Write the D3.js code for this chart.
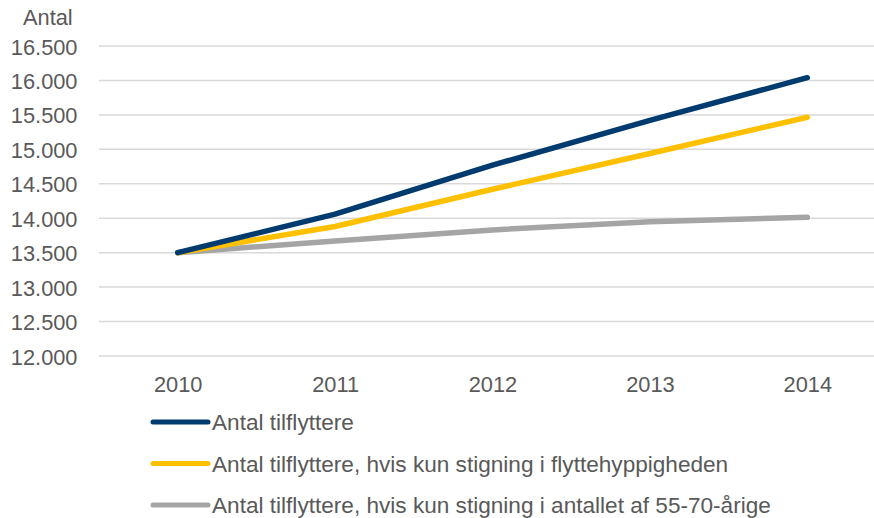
<!DOCTYPE html>
<html>
<head>
<meta charset="utf-8">
<script src="https://cdn.jsdelivr.net/npm/d3@7"></script>
<style>
  body { margin: 0; background: #fff; }
  text { font-family: "Liberation Sans", Arial, sans-serif; fill: #595959; }
</style>
</head>
<body>
<div id="chart"></div>
<script>
// data
const years = ["2010", "2011", "2012", "2013", "2014"];
const tilflyttere = [13500, 14060, 14770, 15420, 16040];
const flyttehyppighed = [13500, 13880, 14420, 14940, 15465];
const aldersgruppe = [13500, 13670, 13830, 13950, 14013];
const yTicks = [12000, 12500, 13000, 13500, 14000, 14500, 15000, 15500, 16000, 16500];

const series = [
    { name: "Antal tilflyttere", values: tilflyttere, color: "#003b6f" },
    { name: "Antal tilflyttere, hvis kun stigning i flyttehyppigheden", values: flyttehyppighed, color: "#ffc000" },
    { name: "Antal tilflyttere, hvis kun stigning i antallet af 55-70-årige", values: aldersgruppe, color: "#a5a5a5" }
];

const width = 874, height = 518;
const fontSize = "21.8px";
const legendFontSize = "22.6px";

const svg = d3.select("#chart").append("svg")
    .attr("width", width)
    .attr("height", height);

// plot area (right side runs past the visible edge like in the original)
const plot = { left: 99, right: 886, top: 46, bottom: 356 };

const x = d3.scalePoint()
    .domain(years)
    .range([plot.left, plot.right])
    .padding(0.5);

const y = d3.scaleLinear()
    .domain([12000, 16500])
    .range([plot.bottom, plot.top]);

const fmt = d => d3.format(",")(d).replace(/,/g, ".");

// gridlines
svg.append("g")
    .selectAll("line")
    .data(yTicks)
    .join("line")
    .attr("x1", plot.left)
    .attr("x2", plot.right)
    .attr("y1", d => y(d))
    .attr("y2", d => y(d))
    .attr("stroke", "#d9d9d9")
    .attr("stroke-width", 1.5);

// y axis labels
const yAxis = d3.axisLeft(y).tickValues(yTicks).tickFormat(fmt).tickSize(0).tickPadding(0);
const gy = svg.append("g")
    .attr("transform", `translate(77.5,0)`)
    .call(yAxis);
gy.select(".domain").remove();
gy.selectAll("text")
    .attr("dy", "8")
    .style("font-size", fontSize)
    .style("font-family", "Liberation Sans, Arial, sans-serif")
    .attr("fill", "#595959");

// x axis labels
const xAxis = d3.axisBottom(x).tickSize(0).tickPadding(0);
const gx = svg.append("g")
    .attr("transform", `translate(0,${plot.bottom})`)
    .call(xAxis);
gx.select(".domain").remove();
gx.selectAll("text")
    .attr("y", 36)
    .attr("dy", 0)
    .style("font-size", fontSize)
    .style("font-family", "Liberation Sans, Arial, sans-serif")
    .attr("fill", "#595959");

// axis title
svg.append("text")
    .attr("x", 23)
    .attr("y", 25)
    .style("font-size", fontSize)
    .text("Antal");

// lines
const line = d3.line()
    .x((d, i) => x(years[i]))
    .y(d => y(d));

// draw gray first so the blue sits on top
series.slice().reverse().forEach(s => {
    svg.append("path")
        .datum(s.values)
        .attr("fill", "none")
        .attr("stroke", s.color)
        .attr("stroke-width", 5.5)
        .attr("stroke-linecap", "round")
        .attr("stroke-linejoin", "round")
        .attr("d", line);
});

// legend
const legend = svg.append("g")
    .selectAll("g")
    .data(series)
    .join("g")
    .attr("transform", (d, i) => `translate(153,${422 + i * 41.5})`);

legend.append("line")
    .attr("x1", 0)
    .attr("x2", 55)
    .attr("stroke", d => d.color)
    .attr("stroke-width", 5)
    .attr("stroke-linecap", "round");

legend.append("text")
    .attr("x", 59)
    .attr("y", 8)
    .style("font-size", legendFontSize)
    .text(d => d.name);
</script>
</body>
</html>
